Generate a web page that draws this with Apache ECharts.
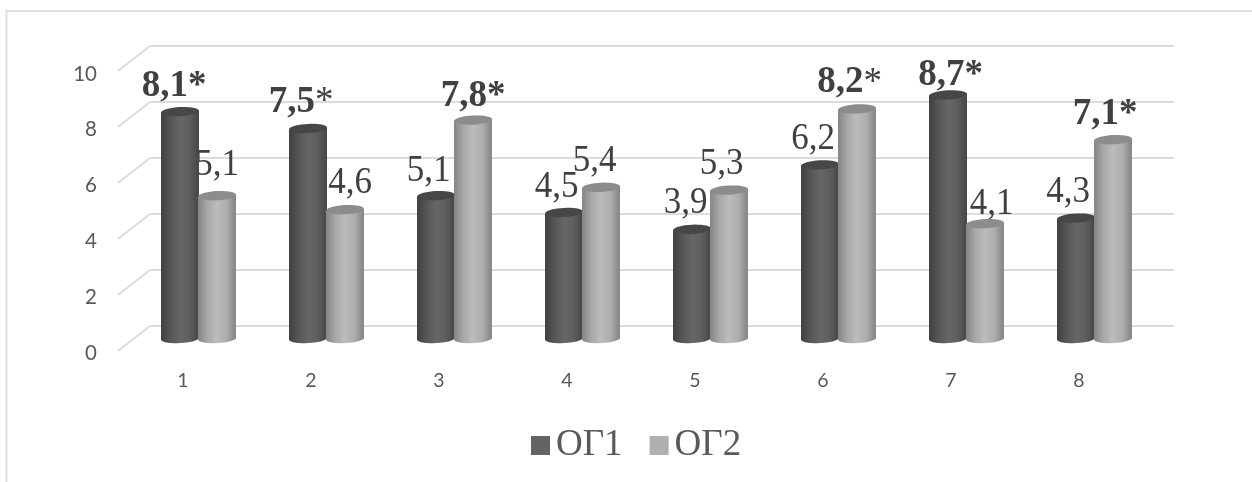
<!DOCTYPE html>
<html>
<head>
<meta charset="utf-8">
<style>html,body{margin:0;padding:0;background:#fff}#chart{width:1252px;height:482px}</style>
<script src="https://cdn.jsdelivr.net/npm/echarts@6/dist/echarts.min.js"></script>
</head>
<body>
<div id="chart"></div>
<script>
// Chart content
const categories = ['1', '2', '3', '4', '5', '6', '7', '8'];
const seriesNames = ['ОГ1', 'ОГ2'];
const valuesOG1 = [8.1, 7.5, 5.1, 4.5, 3.9, 6.2, 8.7, 4.3];
const valuesOG2 = [5.1, 4.6, 7.8, 5.4, 5.3, 8.2, 4.1, 7.1];
// 0 = no mark, 1 = plain asterisk, 2 = bold asterisk
const marksOG1 = [2, 1, 0, 0, 0, 0, 2, 0];
const marksOG2 = [0, 0, 2, 0, 0, 1, 0, 2];
const boldOG1 = [1, 1, 0, 0, 0, 0, 1, 0];
const boldOG2 = [0, 0, 1, 0, 0, 1, 0, 1];
const yTicks = [0, 2, 4, 6, 8, 10];

// Hand-placed data label offsets from the cylinder top, in pixels
const labelDxOG1 = [-6, -7, -7.5, -7.5, -6.5, -7, 2.5, -8];
const labelDyOG1 = [-14.5, -15.5, -14.5, -15.5, -15.5, -15.5, -8.5, -15.5];
const labelDxOG2 = [0, 5, 0, -6.5, -7.5, -7.5, 6.5, -8];
const labelDyOG2 = [-20.5, -16.5, -13.5, -15.5, -15.5, -15.5, -9.5, -14.5];

// Pseudo-3D layout
const WALL = { left: 150, top: 46, width: 1024, height: 280 };
const FLOOR = { left: 119, top: 74, width: 1024, height: 279 };
const SHEAR_X = -32, SHEAR_Y = 25;
const BAR_RX = 19, BAR_RY = 4.6, BAR_TILT = -3 * Math.PI / 180;
const BAR_DEPTH_Y = 12.5;
const TEXT_BASELINE_SHIFT = 8;
const REGULAR_LABEL_STRETCH = 1.07;

const SERIF = '"Liberation Serif", "Times New Roman", serif';
const SANS = 'Lato, "Open Sans", sans-serif';
const LABEL_COLOR = '#404040';
const AXIS_TEXT = '#595959';
const GRID_COLOR = '#dcdcdc';

const PALETTE = {
  'ОГ1': { legend: '#636363', cap: '#474747',
    body: ['#3f3f3f', '#565656', '#666666', '#5e5e5e', '#454545'] },
  'ОГ2': { legend: '#b0b0b0', cap: '#8c8c8c',
    body: ['#858585', '#a8a8a8', '#bcbcbc', '#adadad', '#838383'] }
};

function ellipsePoints(cx, cy, from, to) {
  const pts = [];
  for (let d = from; d <= to; d += 10) {
    const t = d * Math.PI / 180;
    const ex = BAR_RX * Math.cos(t), ey = BAR_RY * Math.sin(t);
    pts.push([
      cx + ex * Math.cos(BAR_TILT) - ey * Math.sin(BAR_TILT),
      cy + ex * Math.sin(BAR_TILT) + ey * Math.cos(BAR_TILT)
    ]);
  }
  return pts;
}

function cylinderSeries(name, values, barOffset) {
  const colors = PALETTE[name];
  return {
    type: 'custom', name, z: 4, xAxisIndex: 0, yAxisIndex: 0, silent: true, clip: false,
    data: values.map((v, i) => [i, v]),
    encode: { x: 0, y: 1 },
    renderItem(params, api) {
      const top = api.coord([api.value(0), api.value(1)]);
      const base = api.coord([api.value(0), 0]);
      const cx = top[0] + barOffset;
      const yTop = top[1] + BAR_DEPTH_Y, yBase = base[1] + BAR_DEPTH_Y;
      const n = colors.body.length - 1;
      const fill = {
        type: 'linear', x: 0, y: 0, x2: 1, y2: 0,
        colorStops: colors.body.map((c, i) => ({ offset: i / n, color: c }))
      };
      const bodyPts = ellipsePoints(cx, yBase, 0, 180).reverse();
      const left = ellipsePoints(cx, yTop, 180, 180)[0];
      const right = ellipsePoints(cx, yTop, 0, 0)[0];
      return {
        type: 'group',
        children: [
          { type: 'polygon', shape: { points: [left].concat(bodyPts, [right]) }, style: { fill } },
          { type: 'polygon', shape: { points: ellipsePoints(cx, yTop, 0, 350) }, style: { fill: colors.cap } }
        ]
      };
    }
  };
}

function labelSeries(values, marks, bold, dxs, dys, barOffset) {
  return {
    type: 'custom', z: 3, xAxisIndex: 0, yAxisIndex: 0, silent: true, clip: false,
    data: values.map((v, i) => [i, v]),
    encode: { x: 0, y: 1 },
    renderItem(params, api) {
      const i = params.dataIndex;
      const top = api.coord([api.value(0), api.value(1)]);
      const num = String(values[i]).replace('.', ',');
      const star = marks[i] === 2 ? '{sb|*}' : marks[i] === 1 ? '{sr|*}' : '';
      return {
        type: 'group',
        x: top[0] + barOffset + dxs[i],
        y: top[1] + BAR_DEPTH_Y + dys[i],
        scaleY: bold[i] ? 1 : REGULAR_LABEL_STRETCH,
        children: [{
          type: 'text',
          style: {
            text: '{' + (bold[i] ? 'nb' : 'nr') + '|' + num + '}' + star,
            x: 0,
            y: TEXT_BASELINE_SHIFT,
            align: 'center',
            verticalAlign: 'bottom',
            rich: {
              nb: { fontFamily: SERIF, fontSize: 37, fontWeight: 'bold', fill: LABEL_COLOR, color: LABEL_COLOR },
              nr: { fontFamily: SERIF, fontSize: 35, fill: LABEL_COLOR, color: LABEL_COLOR },
              sb: { fontFamily: SERIF, fontSize: 37, fontWeight: 'bold', fill: LABEL_COLOR, color: LABEL_COLOR },
              sr: { fontFamily: SERIF, fontSize: 37, fill: LABEL_COLOR, color: LABEL_COLOR }
            }
          }
        }]
      };
    }
  };
}

const BAR_OFFSET_1 = -34, BAR_OFFSET_2 = 3;

const option = {
  animation: false,
  backgroundColor: '#ffffff',
  graphic: [
    { type: 'polyline', silent: true, z: 0,
      shape: { points: [[6.5, 482], [6.5, 11], [1252, 11]] },
      style: { stroke: '#e0e0e0', lineWidth: 2, fill: 'none' } }
  ],
  grid: [
    Object.assign({}, WALL, { containLabel: false }),
    Object.assign({}, FLOOR, { containLabel: false })
  ],
  xAxis: [
    { type: 'category', gridIndex: 0, data: categories, show: false },
    { type: 'category', gridIndex: 1, data: categories,
      axisLine: { show: false }, axisTick: { show: false },
      axisLabel: { color: AXIS_TEXT, fontFamily: SANS, fontSize: 19.5, margin: 18 } }
  ],
  yAxis: [
    { type: 'value', gridIndex: 0, min: 0, max: 10, interval: 2,
      axisLine: { show: false }, axisTick: { show: false }, axisLabel: { show: false },
      splitLine: { show: true, lineStyle: { color: GRID_COLOR, width: 2 } } },
    { type: 'value', gridIndex: 1, min: 0, max: 10, interval: 2,
      axisLine: { show: false }, axisTick: { show: false }, splitLine: { show: false },
      axisLabel: { color: AXIS_TEXT, fontFamily: SANS, fontSize: 20.5, margin: 22 } }
  ],
  legend: {
    left: 531, top: 427, padding: 0, itemWidth: 19, itemHeight: 19, itemGap: 27, selectedMode: false,
    textStyle: { fontFamily: SERIF, fontSize: 37, color: AXIS_TEXT, padding: [0, 0, 0, 1] },
    data: seriesNames.map(n => ({ name: n, icon: 'rect', itemStyle: { color: PALETTE[n].legend } }))
  },
  series: [
    { // Receding edge of the wall at every tick
      type: 'custom', z: 1, xAxisIndex: 0, yAxisIndex: 0, silent: true, clip: false,
      data: yTicks.map(t => [0, t]),
      encode: { x: 0, y: 1 },
      renderItem(params, api) {
        const p = api.coord([0, api.value(1)]);
        const x = params.coordSys.x;
        return { type: 'line',
          shape: { x1: x, y1: p[1], x2: x + SHEAR_X, y2: p[1] + SHEAR_Y },
          style: { stroke: GRID_COLOR, lineWidth: 2 } };
      }
    },
    labelSeries(valuesOG1, marksOG1, boldOG1, labelDxOG1, labelDyOG1, BAR_OFFSET_1),
    labelSeries(valuesOG2, marksOG2, boldOG2, labelDxOG2, labelDyOG2, BAR_OFFSET_2),
    cylinderSeries(seriesNames[0], valuesOG1, BAR_OFFSET_1),
    cylinderSeries(seriesNames[1], valuesOG2, BAR_OFFSET_2)
  ]
};

echarts.init(document.getElementById('chart'), null, { renderer: 'canvas' }).setOption(option);
</script>
</body>
</html>
